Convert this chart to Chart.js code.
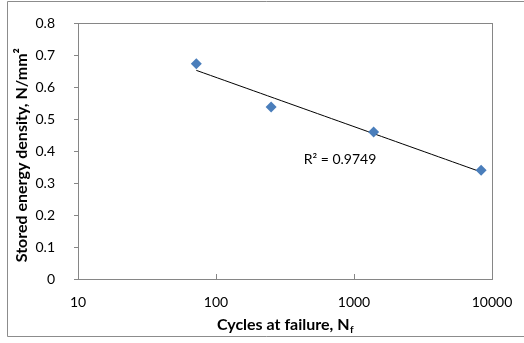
<!DOCTYPE html>
<html lang="en">
<head>
    <meta charset="UTF-8">
    <title>Stored energy density vs cycles</title>
    <script src="https://cdn.jsdelivr.net/npm/chart.js@4.4.0/dist/chart.umd.min.js"></script>
    <style>
        html, body { margin: 0; padding: 0; background: #fff; }
        #wrap { width: 524px; height: 343px; position: relative; }
    </style>
</head>
<body>
<div id="wrap"><canvas id="chart"></canvas></div>
<script>
    // values
    const cycles = [72, 251, 1387, 8340];
    const energy = [0.674, 0.5385, 0.46, 0.34];
    const xTicks = [10, 100, 1000, 10000];
    const yTicks = [0, 0.1, 0.2, 0.3, 0.4, 0.5, 0.6, 0.7, 0.8];
    const r2Label = 'R\u00B2 = 0.9749';

    const FONT = 'Lato, "Open Sans", sans-serif';

    // logarithmic trendline y = a ln(x) + b (least squares on the points)
    const lx = cycles.map(Math.log);
    const mx = lx.reduce((s, v) => s + v, 0) / lx.length;
    const my = energy.reduce((s, v) => s + v, 0) / energy.length;
    let sxy = 0, sxx = 0;
    lx.forEach((v, i) => { sxy += (v - mx) * (energy[i] - my); sxx += (v - mx) * (v - mx); });
    const a = sxy / sxx, b = my - a * mx;
    const trend = [];
    const x0 = cycles[0], x1 = cycles[cycles.length - 1];
    for (let i = 0; i <= 40; i++) {
        const x = Math.exp(Math.log(x0) + (Math.log(x1) - Math.log(x0)) * i / 40);
        trend.push({ x: x, y: a * Math.log(x) + b });
    }

    const frame = {
        id: 'frame',
        afterDraw(chart) {
            const c = chart.ctx, ca = chart.chartArea;
            const xs = chart.scales.x, ys = chart.scales.y;
            c.save();
            // outer border
            c.strokeStyle = '#8c8c8c';
            c.lineWidth = 1;
            c.beginPath();
            c.moveTo(530, 1.5); c.lineTo(7.5, 1.5); c.lineTo(7.5, 336.5); c.lineTo(530, 336.5);
            c.stroke();
            // plot box
            c.strokeStyle = '#868686';
            c.strokeRect(Math.round(ca.left) + 0.5, Math.round(ca.top) + 0.5,
                Math.round(ca.right - ca.left), Math.round(ca.bottom - ca.top));
            c.beginPath();
            yTicks.forEach(v => {
                const y = Math.round(ys.getPixelForValue(v)) + 0.5;
                c.moveTo(ca.left - 4, y); c.lineTo(ca.left, y);
            });
            [100, 1000].forEach(v => {
                const x = Math.round(xs.getPixelForValue(v)) + 0.5;
                c.moveTo(x, ca.bottom); c.lineTo(x, ca.bottom - 5);
            });
            c.stroke();
            // R² label
            c.fillStyle = '#000';
            c.font = '14px ' + FONT;
            c.textAlign = 'center';
            c.textBaseline = 'middle';
            c.fillText(r2Label, 340, 159);
            // x title with subscript
            c.font = 'bold 16px ' + FONT;
            const main = 'Cycles at failure, N';
            const wMain = c.measureText(main).width;
            c.font = 'bold 10px ' + FONT;
            const wSub = c.measureText('f').width;
            const cx = (ca.left + ca.right) / 2;
            let sx = cx - (wMain + wSub) / 2;
            c.textAlign = 'left';
            c.font = 'bold 16px ' + FONT;
            c.fillText(main, sx, 325);
            c.font = 'bold 10px ' + FONT;
            c.fillText('f', sx + wMain + 0.5, 330);
            // y title
            c.translate(22, (ca.top + ca.bottom) / 2 + 4);
            c.rotate(-Math.PI / 2);
            c.textAlign = 'center';
            c.font = 'bold 16px ' + FONT;
            c.fillText('Stored energy density, N/mm\u00B2', 0, 0);
            c.restore();
        }
    };

    new Chart(document.getElementById('chart'), {
        type: 'scatter',
        data: {
            datasets: [{
                label: 'Data',
                data: cycles.map((x, i) => ({ x: x, y: energy[i] })),
                pointStyle: 'rectRot',
                pointRadius: 5.5,
                pointBackgroundColor: '#4a7ebb',
                pointBorderColor: '#4a7ebb',
                pointBorderWidth: 0
            }, {
                label: 'Trend',
                type: 'line',
                data: trend,
                borderColor: '#000',
                borderWidth: 1,
                pointRadius: 0,
                fill: false
            }]
        },
        options: {
            responsive: true,
            maintainAspectRatio: false,
            animation: false,
            layout: { padding: { left: 0, top: 18, right: 32, bottom: 0 } },
            plugins: { legend: { display: false }, tooltip: { enabled: false } },
            scales: {
                x: {
                    type: 'logarithmic',
                    min: 10,
                    max: 10000,
                    afterBuildTicks: s => { s.ticks = xTicks.map(v => ({ value: v })); },
                    afterFit: s => { s.height = 64; },
                    grid: { display: false },
                    border: { display: false },
                    ticks: {
                        color: '#000',
                        font: { family: FONT, size: 14 },
                        padding: 7,
                        maxRotation: 0,
                        callback: v => String(v)
                    }
                },
                y: {
                    min: 0,
                    max: 0.8,
                    afterBuildTicks: s => { s.ticks = yTicks.map(v => ({ value: v })); },
                    afterFit: s => { s.width = 78; },
                    grid: { display: false },
                    border: { display: false },
                    ticks: {
                        color: '#000',
                        font: { family: FONT, size: 14 },
                        padding: 15,
                        callback: v => String(v)
                    }
                }
            }
        },
        plugins: [frame]
    });
</script>
</body>
</html>
